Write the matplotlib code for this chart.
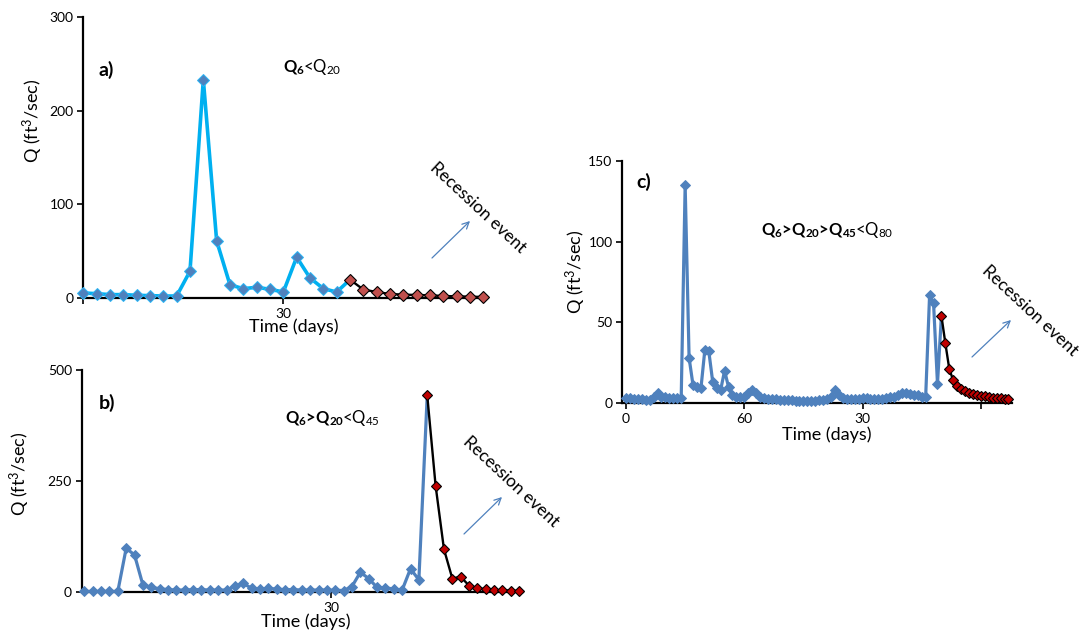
import matplotlib.pyplot as plt
import numpy as np

plt.rcParams['font.family'] = ['Lato', 'DejaVu Sans']
plt.rcParams['mathtext.default'] = 'regular'

W, H = 1082, 635

# a) Q6 < Q20 : daily flow, then the recession part
a_flow = [5.4, 4.6, 3.6, 3.6, 2.9, 2.5, 2.1, 2.1, 28.6, 233, 61, 14, 10, 11.4,
          9.3, 6.4, 43.6, 21.4, 10, 6.4]
a_recession = [19.6, 9, 6.4, 4.3, 3.6, 3.2, 2.9, 2.1, 1.8, 1.4, 1.1]

# b) Q6 > Q20 < Q45
b_flow = [2, 2, 2, 2, 2, 99, 84, 16.5, 11, 8, 6, 5, 5, 6, 6, 5, 5, 5, 14, 20,
          9, 7, 9, 7, 6, 6, 5, 5, 5, 5, 4.5, 4, 13, 45, 31, 11, 10, 7.5, 5, 53, 28]
b_recession = [443, 240, 97, 31, 35, 15, 9, 7, 5, 4.5, 4, 3]

# c) Q6 > Q20 > Q45 < Q80
c_flow = [3, 3, 2.5, 2.5, 2.5, 2, 2, 3.5, 6, 4, 3.5, 3, 3, 3, 3, 135, 28, 11, 10,
          9, 33, 32, 13, 9, 8, 20, 10, 5, 4, 3.5, 4, 6, 8, 6, 3.5, 3, 2.5, 2.5,
          2.5, 2, 2, 2, 2, 1.5, 1.5, 1.5, 1.5, 1.5, 1.5, 2, 2, 2.5, 4, 8, 5, 3,
          2.5, 2.5, 2.5, 2.5, 3, 3, 2.5, 2.5, 2.5, 2.5, 3, 3.5, 4, 5, 6, 6, 5.5,
          5, 5, 4, 3.5, 67, 62, 12]
c_recession = [54, 37, 21, 14, 10.5, 8.5, 7.2, 6.3, 5.6, 5.0, 4.5, 4.1, 3.7,
               3.4, 3.1, 2.8, 2.5, 2.2]

a_yticks = [0, 100, 200, 300]
b_yticks = [0, 250, 500]
c_yticks = [0, 50, 100, 150]
a_xticks, a_xlabels = [0, 15], ["", "30"]
b_xticks, b_xlabels = [29.5], ["30"]
c_xticks, c_xlabels = [0, 30, 60, 90], ["0", "60", "30", ""]


def rect(x0, y0, x1, y1):
    return [x0 / W, 1 - y1 / H, (x1 - x0) / W, (y1 - y0) / H]


def fxy(x, y):
    return x / W, 1 - y / H


def draw_panel(ax, flow, recession, line_color, rec_color, lw, ms, mec,
               xlim, yticks, xticks, xlabels):
    n = len(flow)
    q = np.array(flow + recession, dtype=float)
    t = np.arange(len(q))
    ax.plot(t[:n + 1], q[:n + 1], color=line_color, lw=lw, zorder=2,
            solid_joinstyle='round', clip_on=False)
    ax.plot(t[n:], q[n:], color='black', lw=1.7, zorder=2, clip_on=False)
    ax.plot(t[:n], q[:n], ls='none', marker='D', ms=ms, mfc='#4F81BD',
            mec=mec, mew=0.7, zorder=3, clip_on=False)
    ax.plot(t[n:], q[n:], ls='none', marker='D', ms=ms, mfc=rec_color,
            mec='black', mew=0.8, zorder=4, clip_on=False)
    ax.set_xlim(*xlim)
    ax.set_ylim(0, yticks[-1])
    ax.set_yticks(yticks)
    ax.set_xticks(xticks)
    ax.set_xticklabels(xlabels)
    for s in ['top', 'right']:
        ax.spines[s].set_visible(False)
    for s in ['left', 'bottom']:
        ax.spines[s].set_linewidth(1.6)
        ax.spines[s].set_color('black')
    ax.tick_params(direction='out', length=4, width=1.2, labelsize=10, pad=3)
    ax.set_facecolor('none')


def cond_label(ax, x, y, bold, normal):
    t = fig.text(*fxy(x, y), bold, fontsize=12, fontweight='bold', va='center')
    ax.annotate(normal, xy=(1, 0), xycoords=t, xytext=(-1.5, 0),
                textcoords='offset points', va='bottom', fontsize=12,
                annotation_clip=False)


def recession_note(ax, tx, ty, x0, y0, x1, y1):
    fig.text(*fxy(tx, ty), 'Recession event', rotation=-43, ha='center',
             va='center', rotation_mode='anchor', fontsize=12.5)
    ax.annotate('', xy=fxy(x1, y1), xytext=fxy(x0, y0),
                xycoords='figure fraction', textcoords='figure fraction',
                arrowprops=dict(arrowstyle='->', color='#4F81BD', lw=0.9,
                                mutation_scale=12, shrinkA=0, shrinkB=0))


fig = plt.figure(figsize=(W / 100, H / 100), dpi=100)

ax_a = fig.add_axes(rect(83.3, 17, 486.7, 298))
draw_panel(ax_a, a_flow, a_recession, '#00B0F0', '#C0504D', 2.6, 6.0, '#29B6F6',
           (0, 30.25), a_yticks, a_xticks, a_xlabels)

ax_b = fig.add_axes(rect(81.6, 370, 523.4, 592.3))
draw_panel(ax_b, b_flow, b_recession, '#4F81BD', '#C00000', 2.3, 5.2, '#4F81BD',
           (-0.33, 52.5), b_yticks, b_xticks, b_xlabels)

ax_c = fig.add_axes(rect(622.3, 161, 1011.6, 403))
draw_panel(ax_c, c_flow, c_recession, '#4F81BD', '#C00000', 2.3, 4.6, '#4F81BD',
           (-0.94, 97.8), c_yticks, c_xticks, c_xlabels)

# panel letters
for lab, (x, y) in zip(['a)', 'b)', 'c)'], [(106, 70), (107, 403), (644, 182)]):
    fig.text(*fxy(x, y), lab, fontsize=14, fontweight='bold', ha='center', va='center')

# axis labels
ylab = 'Q (ft$^3$/sec)'
for x, y in [(33, 121), (19.5, 474), (576, 272)]:
    fig.text(*fxy(x, y), ylab, rotation=90, fontsize=13, ha='center', va='center')
for x, y in [(294, 327), (306, 622), (827, 435)]:
    fig.text(*fxy(x, y), 'Time (days)', fontsize=13, ha='center', va='center')

cond_label(ax_a, 283, 68, 'Q$_6$', '<Q$_{20}$')
cond_label(ax_b, 285, 419, 'Q$_6$>Q$_{20}$', '<Q$_{45}$')
cond_label(ax_c, 761, 231, 'Q$_6$>Q$_{20}$>Q$_{45}$', '<Q$_{80}$')

recession_note(ax_a, 478, 208, 432, 258, 470, 221)
recession_note(ax_b, 511, 482, 464, 534, 502, 497)
recession_note(ax_c, 1030, 311, 972, 357, 1011, 320)

fig.savefig('out.png', dpi=100)
